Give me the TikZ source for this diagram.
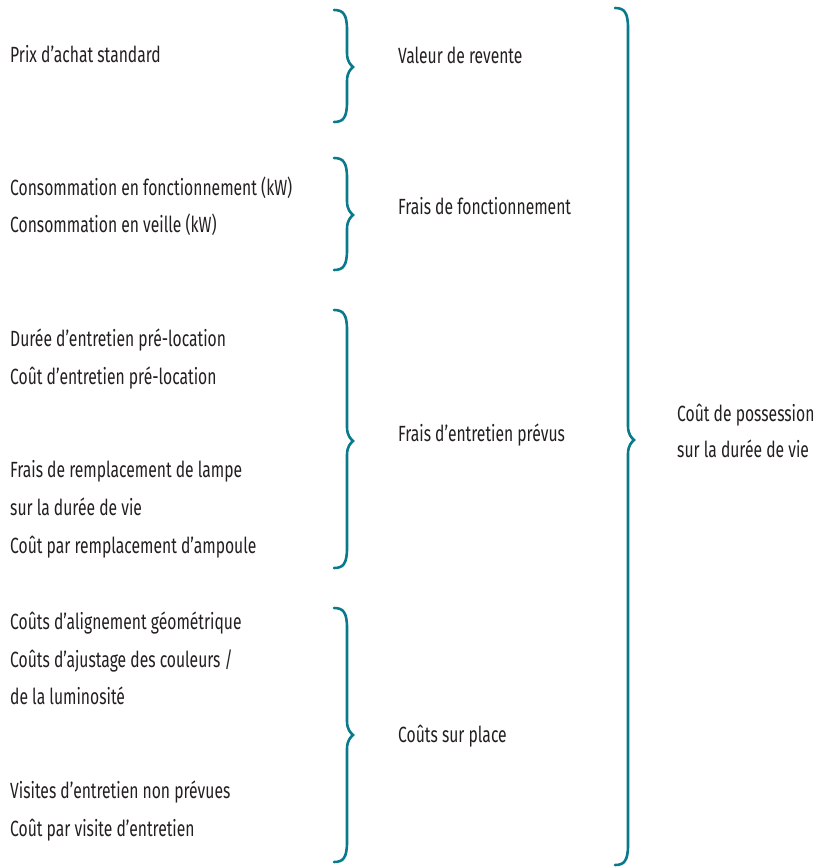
\documentclass[tikz,border=0pt]{standalone}
\usepackage{fontspec}
\setmainfont[FakeStretch=0.712]{Fira Sans}
\usepackage{tikz}
\definecolor{braceteal}{RGB}{8,122,140}
\definecolor{txtgray}{RGB}{35,31,32}
\tikzset{
  item/.style={anchor=base west, inner sep=0pt, text=txtgray,
    font=\fontsize{22}{26}\selectfont},
  bracestyle/.style={draw=braceteal, line width=2.6pt, line cap=round},
}
% curly brace: x, top, tip, bottom
\newcommand{\curly}[4]{%
  \draw[bracestyle] (#1,#2) .. controls (#1+9,#2) and (#1+13,#2+4) .. (#1+13,#2+20)
    -- (#1+13,#3-14) .. controls (#1+13,#3-5) and (#1+17,#3-2) .. (#1+19,#3)
    .. controls (#1+17,#3+2) and (#1+13,#3+5) .. (#1+13,#3+14)
    -- (#1+13,#4-20) .. controls (#1+13,#4-4) and (#1+9,#4) .. (#1,#4);
}
\begin{document}
\begin{tikzpicture}[x=1pt, y=-1pt]
  \useasboundingbox (0,0) rectangle (817,868);
  % left column: inputs
  \node[item] (prix) at (10,62) {Prix d’achat standard};
  \node[item] (consf) at (10,195) {Consommation en fonctionnement (kW)};
  \node[item] (consv) at (10,232) {Consommation en veille (kW)};
  \node[item] (duree) at (10,346) {Durée d’entretien pré-location};
  \node[item] (coutent) at (10,384) {Coût d’entretien pré-location};
  \node[item] (lampe) at (10,477) {Frais de remplacement de lampe};
  \node[item] (lampeb) at (10,515) {sur la durée de vie};
  \node[item] (ampoule) at (10,553) {Coût par remplacement d’ampoule};
  \node[item] (align) at (10,629) {Coûts d’alignement géométrique};
  \node[item] (ajust) at (10,667) {Coûts d’ajustage des couleurs /};
  \node[item] (ajustb) at (10,704) {de la luminosité};
  \node[item] (visites) at (10,798) {Visites d’entretien non prévues};
  \node[item] (coutvis) at (10,836) {Coût par visite d’entretien};
  % middle column: cost groups
  \node[item] (revente) at (398,63) {Valeur de revente};
  \node[item] (fonct) at (398,214) {Frais de fonctionnement};
  \node[item] (entr) at (398,441) {Frais d’entretien prévus};
  \node[item] (place) at (398,742) {Coûts sur place};
  % right column: total
  \node[item] (total) at (677,421) {Coût de possession};
  \node[item] (totalb) at (677,457) {sur la durée de vie};
  % braces
  \curly{334}{10}{67}{122}
  \curly{334}{158}{215}{270}
  \curly{334}{310}{441}{568}
  \curly{334}{608}{735}{862}
  \curly{615}{8}{440}{865}
\end{tikzpicture}
\end{document}
